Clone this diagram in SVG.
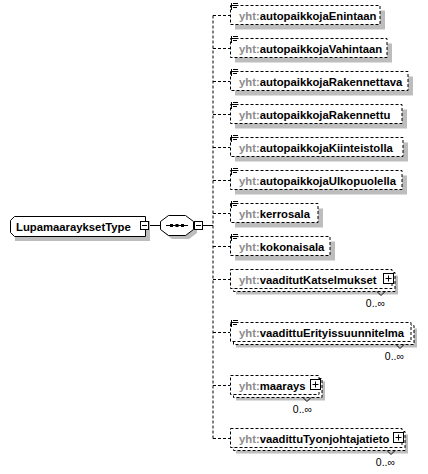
<svg xmlns="http://www.w3.org/2000/svg" width="428" height="474" viewBox="0 0 428 474">
<style>
.shadow{fill:#bdbdbd;stroke:none}
.opt{fill:#fff;stroke:#000;stroke-width:1;stroke-dasharray:3 2}
.solid{fill:#fff;stroke:#000;stroke-width:1}
.conn{fill:none;stroke:#000;stroke-width:1}
.dash{fill:none;stroke:#000;stroke-width:1;stroke-dasharray:3 2}
.ic{fill:none;stroke:#000;stroke-width:1}
.lbl{font-family:"Liberation Sans",Arial,sans-serif;font-size:11.3px;font-weight:bold;fill:#000}
.pre{fill:#8c8c8c}
.mult{font-family:"Liberation Sans",Arial,sans-serif;font-size:10.5px;fill:#000;text-anchor:end}
</style>
<defs>
<g id="icon"><path class="ic" d="M0.5 0v7M2 0.5h5M2 2.5h5M2 4.5h4"/></g>
<g id="plus"><rect class="solid" x="0.5" y="0.5" width="10" height="10"/><path class="ic" d="M2.5 5.5h6M5.5 2.5v6"/></g>
</defs>

<g id="connectors">
<path class="conn" d="M149 225.5H160M203 225.5H213"/>
<path class="dash" d="M213 15.5V438.5"/>
<path class="dash" d="M213 15.5H230M213 48.5H230M213 81.5H230M213 114.5H230M213 147.5H230M213 180.5H230M213 213.5H230M213 246.5H230M213 279.5H230M213 332.5H230M213 385.5H230M213 438.5H230"/>
</g>

<g id="root">
<path class="shadow" d="M19 221H150V241H15V225Z"/>
<path class="solid" d="M14.5 216.5H145.5V236.5H14.5L10.5 232.5V220.5Z"/>
<text class="lbl" x="16" y="230.5">LupamaarayksetType</text>
<rect class="solid" x="140.5" y="221.5" width="8" height="8"/>
<path class="ic" d="M142 225.5h5"/>
</g>

<g id="sequence">
<path class="shadow" d="M172 219H189L197 225V233L189 239H172L164 233V225Z"/>
<path class="solid" d="M168.5 215.5H185.5L193.5 221.5V229.5L185.5 235.5H168.5L160.5 229.5V221.5Z"/>
<path class="conn" d="M166 225.5H188"/>
<rect x="170" y="224" width="3" height="3" fill="#000"/>
<rect x="175.5" y="224" width="3" height="3" fill="#000"/>
<rect x="181" y="224" width="3" height="3" fill="#000"/>
<rect class="solid" x="194.5" y="221.5" width="8" height="8"/>
<path class="ic" d="M196 225.5h5"/>
</g>

<g id="n1">
<rect class="shadow" x="235" y="10.5" width="150" height="19"/>
<rect class="opt" x="230.5" y="5.5" width="149.5" height="19"/>
<use href="#icon" x="231" y="3"/>
<text class="lbl" x="239" y="19.5"><tspan class="pre">yht:</tspan>autopaikkojaEnintaan</text>
</g>
<g id="n2">
<rect class="shadow" x="235" y="43.5" width="157" height="19"/>
<rect class="opt" x="230.5" y="38.5" width="156.5" height="19"/>
<use href="#icon" x="231" y="36"/>
<text class="lbl" x="239" y="52.5"><tspan class="pre">yht:</tspan>autopaikkojaVahintaan</text>
</g>
<g id="n3">
<rect class="shadow" x="235" y="76.5" width="178" height="19"/>
<rect class="opt" x="230.5" y="71.5" width="177.5" height="19"/>
<use href="#icon" x="231" y="69"/>
<text class="lbl" x="239" y="85.5"><tspan class="pre">yht:</tspan>autopaikkojaRakennettava</text>
</g>
<g id="n4">
<rect class="shadow" x="235" y="109.5" width="172" height="19"/>
<rect class="opt" x="230.5" y="104.5" width="171.5" height="19"/>
<use href="#icon" x="231" y="102"/>
<text class="lbl" x="239" y="118.5"><tspan class="pre">yht:</tspan>autopaikkojaRakennettu</text>
</g>
<g id="n5">
<rect class="shadow" x="235" y="142.5" width="173" height="19"/>
<rect class="opt" x="230.5" y="137.5" width="172.5" height="19"/>
<use href="#icon" x="231" y="135"/>
<text class="lbl" x="239" y="151.5"><tspan class="pre">yht:</tspan>autopaikkojaKiinteistolla</text>
</g>
<g id="n6">
<rect class="shadow" x="235" y="175.5" width="172" height="19"/>
<rect class="opt" x="230.5" y="170.5" width="171.5" height="19"/>
<use href="#icon" x="231" y="168"/>
<text class="lbl" x="239" y="184.5"><tspan class="pre">yht:</tspan>autopaikkojaUlkopuolella</text>
</g>
<g id="n7">
<rect class="shadow" x="235" y="208.5" width="88" height="19"/>
<rect class="opt" x="230.5" y="203.5" width="87.5" height="19"/>
<use href="#icon" x="231" y="201"/>
<text class="lbl" x="239" y="217.5"><tspan class="pre">yht:</tspan>kerrosala</text>
</g>
<g id="n8">
<rect class="shadow" x="235" y="241.5" width="100" height="19"/>
<rect class="opt" x="230.5" y="236.5" width="99.5" height="19"/>
<use href="#icon" x="231" y="234"/>
<text class="lbl" x="239" y="250.5"><tspan class="pre">yht:</tspan>kokonaisala</text>
</g>

<g id="n9">
<rect class="shadow" x="236" y="275.5" width="162" height="19"/>
<rect class="opt" x="233.5" y="272.5" width="161.5" height="19"/>
<rect class="opt" x="230.5" y="269.5" width="161.5" height="19"/>
<text class="lbl" x="239" y="283.5"><tspan class="pre">yht:</tspan>vaaditutKatselmukset</text>
<use href="#plus" x="383" y="273"/>
<path class="ic" d="M377 291.5L381 295.5L385 291.5"/>
<text class="mult" x="385" y="306.5">0..∞</text>
</g>
<g id="n10">
<rect class="shadow" x="236" y="328.5" width="181" height="19"/>
<rect class="opt" x="233.5" y="325.5" width="180.5" height="19"/>
<rect class="opt" x="230.5" y="322.5" width="180.5" height="19"/>
<use href="#icon" x="231" y="320"/>
<text class="lbl" x="239" y="336.5"><tspan class="pre">yht:</tspan>vaadittuErityissuunnitelma</text>
<path class="ic" d="M396 344.5L400 348.5L404 344.5"/>
<text class="mult" x="404" y="359.5">0..∞</text>
</g>
<g id="n11">
<rect class="shadow" x="236" y="381.5" width="89" height="19"/>
<rect class="opt" x="233.5" y="378.5" width="88.5" height="19"/>
<rect class="opt" x="230.5" y="375.5" width="88.5" height="19"/>
<text class="lbl" x="239" y="389.5"><tspan class="pre">yht:</tspan>maarays</text>
<use href="#plus" x="310" y="379"/>
<path class="ic" d="M303 397.5L307 401.5L311 397.5"/>
<text class="mult" x="312" y="412.5">0..∞</text>
</g>
<g id="n12">
<rect class="shadow" x="236" y="434.5" width="172" height="19"/>
<rect class="opt" x="233.5" y="431.5" width="171.5" height="19"/>
<rect class="opt" x="230.5" y="428.5" width="171.5" height="19"/>
<text class="lbl" x="239" y="442.5"><tspan class="pre">yht:</tspan>vaadittuTyonjohtajatieto</text>
<use href="#plus" x="393" y="432"/>
<path class="ic" d="M387 450.5L391 454.5L395 450.5"/>
<text class="mult" x="395" y="465.5">0..∞</text>
</g>
</svg>
